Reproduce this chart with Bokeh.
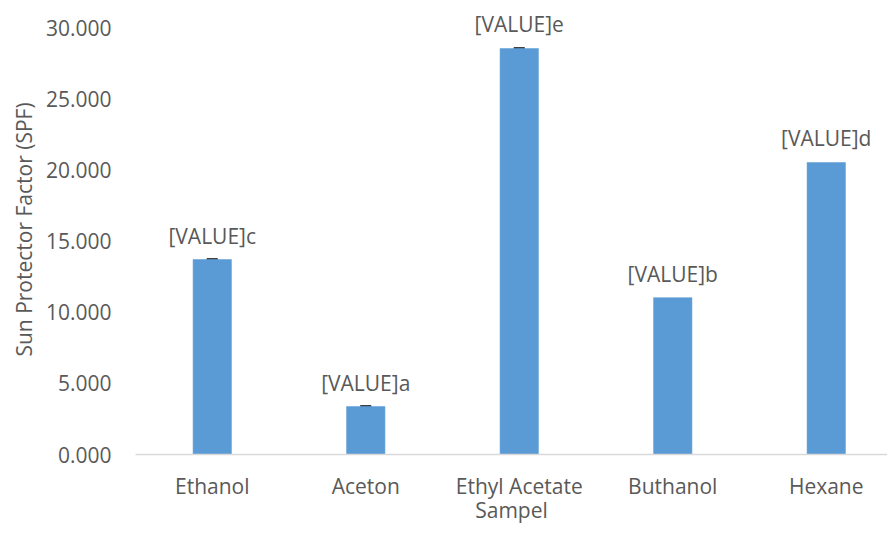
from bokeh.plotting import figure
from bokeh.models import (ColumnDataSource, Range1d, FixedTicker, NumeralTickFormatter,
                          LabelSet, Whisker)
from bokeh.core.properties import value
from bokeh.embed import file_html
from bokeh.resources import INLINE

categories = ["Ethanol", "Aceton", "Ethyl Acetate", "Buthanol", "Hexane"]
spf = [13.70, 3.37, 28.53, 11.02, 20.52]
errors = [0.03, 0.03, 0.03, 0.0, 0.0]
letters = ["c", "a", "e", "b", "d"]
y_ticks = [0, 5, 10, 15, 20, 25, 30]

FONT = "Open Sans"
TXT = "#595959"
FS = "21px"

xs = list(range(len(categories)))
src = ColumnDataSource(dict(
    x=xs, top=spf,
    lab=["[VALUE]" + l for l in letters],
))
ex = [x for x, e in zip(xs, errors) if e > 0]
err_src = ColumnDataSource(dict(
    x=ex,
    upper=[spf[i] + errors[i] for i in ex],
    lower=[spf[i] - errors[i] for i in ex],
))

p = figure(width=887, height=527, output_backend="svg", toolbar_location=None,
           x_range=Range1d(-0.5, 4.399), y_range=Range1d(0, 31.62),
           min_border_left=135, min_border_right=0, min_border_top=4, min_border_bottom=73)
p.outline_line_color = None
p.grid.grid_line_color = None
p.background_fill_color = "white"

p.vbar(x="x", top="top", width=0.25, bottom=0, source=src,
       fill_color="#5B9BD5", line_color="#5B9BD5", line_width=0.5)

w = Whisker(base="x", upper="upper", lower="lower", source=err_src,
            line_color="#404040", line_width=2)
for h in (w.upper_head, w.lower_head):
    h.size = 11
    h.line_color = "#404040"
    h.line_width = 2
p.add_layout(w)

labels = LabelSet(x="x", y="top", text="lab", source=src, y_offset=24,
                  text_align="center", text_baseline="middle",
                  text_font=value(FONT), text_font_size=value(FS), text_color=TXT)
p.add_layout(labels)

# y axis
p.yaxis.ticker = FixedTicker(ticks=y_ticks)
p.yaxis.formatter = NumeralTickFormatter(format="0.000")
p.yaxis.axis_line_color = None
p.yaxis.major_tick_line_color = None
p.yaxis.minor_tick_line_color = None
p.yaxis.major_label_standoff = 18
p.yaxis.major_label_text_font = FONT
p.yaxis.major_label_text_font_size = FS
p.yaxis.major_label_text_color = TXT
p.yaxis.axis_label = "Sun Protector Factor (SPF)"
p.yaxis.axis_label_text_font = FONT
p.yaxis.axis_label_text_font_size = FS
p.yaxis.axis_label_text_font_style = "normal"
p.yaxis.axis_label_text_color = TXT
p.yaxis.axis_label_standoff = 5

# x axis
p.xaxis.ticker = FixedTicker(ticks=xs)
p.xaxis.major_label_overrides = {i: c for i, c in zip(xs, categories)}
p.xaxis.axis_line_color = "#D9D9D9"
p.xaxis.axis_line_width = 1.5
p.xaxis.major_tick_line_color = None
p.xaxis.minor_tick_line_color = None
p.xaxis.major_label_standoff = 11
p.xaxis.major_label_text_font = FONT
p.xaxis.major_label_text_font_size = FS
p.xaxis.major_label_text_color = TXT
p.xaxis.axis_label = "Sampel"
p.xaxis.axis_label_text_font = FONT
p.xaxis.axis_label_text_font_size = FS
p.xaxis.axis_label_text_font_style = "normal"
p.xaxis.axis_label_text_color = TXT
p.xaxis.axis_label_standoff = -7

open("out.html", "w").write(file_html(p, INLINE))
